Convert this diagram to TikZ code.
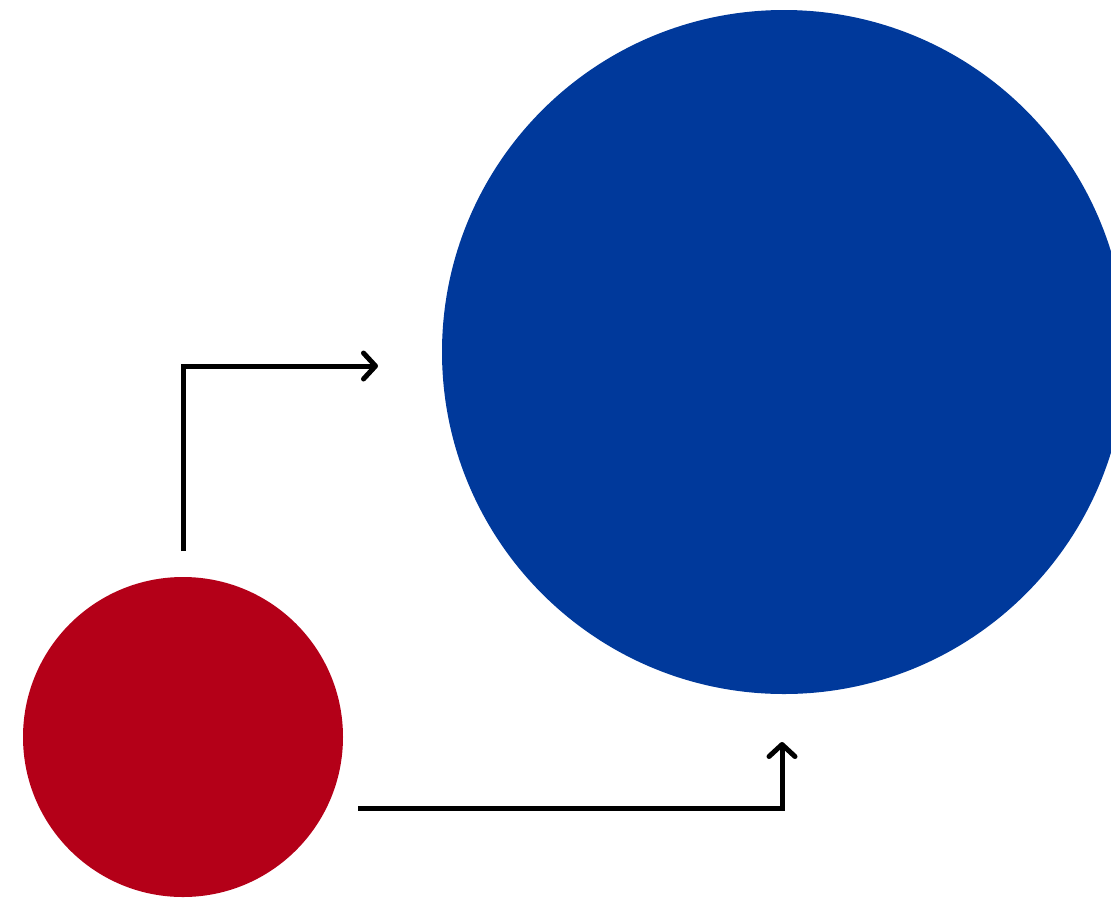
\documentclass[tikz,border=0pt]{standalone}
\usetikzlibrary{arrows.meta}
\definecolor{myred}{RGB}{180,0,24}
\definecolor{myblue}{RGB}{0,57,155}
\begin{document}
\begin{tikzpicture}[x=1pt,y=-1pt,
  disc/.style={circle,inner sep=0pt,outer sep=0pt,draw=none},
  conn/.style={line width=5pt,line join=miter,-{Straight Barb[length=12pt,width=26pt,line width=5pt,round]}}]
\useasboundingbox (0,0) rectangle (1111,898);
\begin{scope}
\clip (0,0) rectangle (1111,898);
\node[disc,fill=myblue,minimum size=684pt] (big) at (784,352) {};
\end{scope}
\node[disc,fill=myred,minimum size=320pt] (small) at (183,737) {};
\coordinate (s1) at (183,551);
\coordinate (e1) at (378,366);
\coordinate (s2) at (358,808);
\coordinate (e2) at (782,742);
\draw[conn] (s1) |- (e1);
\draw[conn] (s2) -| (e2);
\end{tikzpicture}
\end{document}
